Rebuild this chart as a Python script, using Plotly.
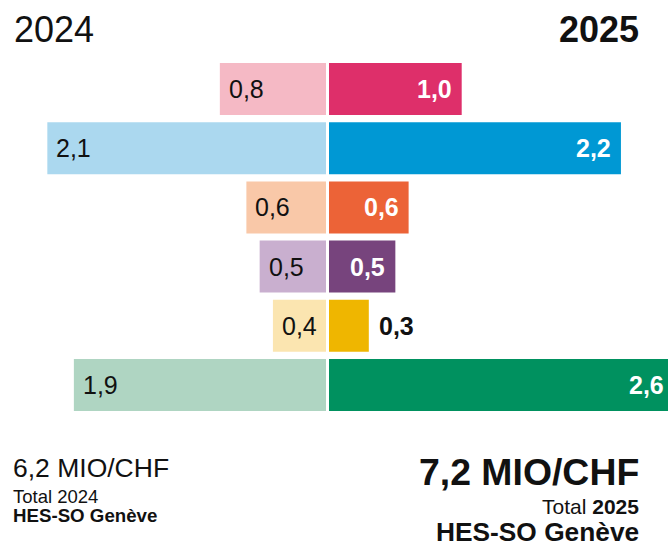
import plotly.graph_objects as go

rows = ["r1", "r2", "r3", "r4", "r5", "r6"]
values_2024 = [0.8, 2.1, 0.6, 0.5, 0.4, 1.9]
values_2025 = [1.0, 2.2, 0.6, 0.5, 0.3, 2.6]
colors_2024 = ["#F5B9C5", "#ABD8EF", "#F9C8A8", "#C9AFCF", "#FBE5B0", "#AFD5C2"]
colors_2025 = ["#DE2F6A", "#0098D4", "#EC6337", "#77447D", "#EFB600", "#00915F"]
total_2024 = "6,2 MIO/CHF"
total_2025 = "7,2 MIO/CHF"

FONT = "Liberation Sans, Arial, sans-serif"
W, H = 668, 549
PX_PER_UNIT = 132.7
CENTER_L, CENTER_R = 326, 329
R1 = CENTER_L / PX_PER_UNIT
R2 = (W - CENTER_R) / PX_PER_UNIT


def fmt(v):
    return f"{v:.1f}".replace(".", ",")


fig = go.Figure()
fig.add_trace(go.Bar(y=rows, x=values_2024, orientation="h", marker=dict(color=colors_2024, line=dict(width=0)),
                     width=0.878, xaxis="x", yaxis="y", hoverinfo="skip"))
fig.add_trace(go.Bar(y=rows, x=values_2025, orientation="h", marker=dict(color=colors_2025, line=dict(width=0)),
                     width=0.878, xaxis="x2", yaxis="y", hoverinfo="skip"))

annotations = []
for r, v in zip(rows, values_2024):
    annotations.append(dict(x=v, y=r, xref="x", yref="y", text=fmt(v), showarrow=False,
                            xanchor="left", yanchor="middle", xshift=7,
                            font=dict(family=FONT, size=25, color="#111111")))
for r, v in zip(rows, values_2025):
    inside = v >= 0.4
    annotations.append(dict(x=v / R2, y=r, xref="x2 domain", yref="y", text=f"<b>{fmt(v)}</b>", showarrow=False,
                            xanchor="right" if inside else "left", yanchor="middle",
                            xshift=-8 if inside else 8,
                            font=dict(family=FONT, size=25, color="white" if inside else "#111111")))


def paper_y(px):
    return 1 - px / H


# headers
annotations.append(dict(x=12 / W, y=paper_y(29), xref="paper", yref="paper", text="2024", showarrow=False,
                        xanchor="left", yanchor="middle", font=dict(family=FONT, size=36, color="#111111")))
annotations.append(dict(x=641 / W, y=paper_y(29), xref="paper", yref="paper", text="<b>2025</b>", showarrow=False,
                        xanchor="right", yanchor="middle", font=dict(family=FONT, size=36, color="#111111")))
# bottom left totals
annotations.append(dict(x=11 / W, y=paper_y(468), xref="paper", yref="paper", text=total_2024, showarrow=False,
                        xanchor="left", yanchor="middle", font=dict(family=FONT, size=26.5, color="#111111")))
annotations.append(dict(x=11 / W, y=paper_y(496), xref="paper", yref="paper", text="Total 2024", showarrow=False,
                        xanchor="left", yanchor="middle", font=dict(family=FONT, size=18.5, color="#111111")))
annotations.append(dict(x=11 / W, y=paper_y(515), xref="paper", yref="paper", text="<b>HES-SO Genève</b>", showarrow=False,
                        xanchor="left", yanchor="middle", font=dict(family=FONT, size=18.7, color="#111111")))
# bottom right totals
annotations.append(dict(x=641 / W, y=paper_y(472), xref="paper", yref="paper", text=f"<b>{total_2025}</b>", showarrow=False,
                        xanchor="right", yanchor="middle", font=dict(family=FONT, size=37.4, color="#111111")))
annotations.append(dict(x=641 / W, y=paper_y(506), xref="paper", yref="paper", text="Total <b>2025</b>", showarrow=False,
                        xanchor="right", yanchor="middle", font=dict(family=FONT, size=21, color="#111111")))
annotations.append(dict(x=641 / W, y=paper_y(532), xref="paper", yref="paper", text="<b>HES-SO Genève</b>", showarrow=False,
                        xanchor="right", yanchor="middle", font=dict(family=FONT, size=26.3, color="#111111")))

fig.update_layout(
    width=W, height=H,
    margin=dict(l=0, r=0, t=0, b=0),
    paper_bgcolor="white", plot_bgcolor="white",
    showlegend=False,
    font=dict(family=FONT),
    xaxis=dict(domain=[0, CENTER_L / W], range=[R1, 0], visible=False, fixedrange=True),
    xaxis2=dict(domain=[CENTER_R / W, 1], range=[0, R2], visible=False, fixedrange=True),
    yaxis=dict(type="category", categoryorder="array", categoryarray=rows,
               range=[7.77, -1.503], visible=False, fixedrange=True),
    annotations=annotations,
)

fig.write_html("out.html", config={"displayModeBar": False},
               post_script="document.body.style.margin='0';document.body.style.overflow='hidden';")
